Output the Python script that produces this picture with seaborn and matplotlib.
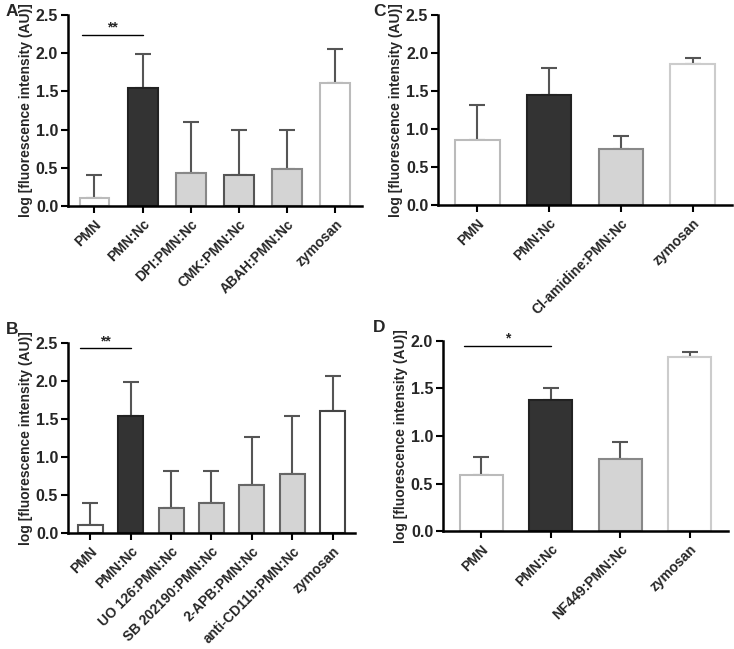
import numpy as np
import matplotlib
matplotlib.use("Agg")
import matplotlib.pyplot as plt
import seaborn as sns

# ---- data ----
a_labels = ["PMN", "PMN:Nc", "DPI:PMN:Nc", "CMK:PMN:Nc", "ABAH:PMN:Nc", "zymosan"]
a_means = [0.10, 1.54, 0.43, 0.41, 0.48, 1.61]
a_err = [0.30, 0.45, 0.67, 0.59, 0.51, 0.45]

b_labels = ["PMN", "PMN:Nc", "UO 126:PMN:Nc", "SB 202190:PMN:Nc", "2-APB:PMN:Nc",
            "anti-CD11b:PMN:Nc", "zymosan"]
b_means = [0.10, 1.54, 0.33, 0.40, 0.63, 0.77, 1.61]
b_err = [0.30, 0.45, 0.49, 0.41, 0.63, 0.77, 0.45]

c_labels = ["PMN", "PMN:Nc", "Cl-amidine:PMN:Nc", "zymosan"]
c_means = [0.86, 1.45, 0.74, 1.86]
c_err = [0.46, 0.36, 0.17, 0.07]

d_labels = ["PMN", "PMN:Nc", "NF449:PMN:Nc", "zymosan"]
d_means = [0.59, 1.38, 0.76, 1.83]
d_err = [0.19, 0.13, 0.18, 0.05]

WHITE, DARK, LIGHT = "#ffffff", "#333333", "#d4d4d4"

sns.set_style("ticks")
plt.rcParams["font.family"] = ["Liberation Sans", "DejaVu Sans"]
plt.rcParams["font.weight"] = "bold"

fig = plt.figure(figsize=(7.34, 6.49), dpi=100)


def panel(rect, labels, means, errs, fills, edges, ymax, letter, letter_xy, sig=None):
    ax = fig.add_axes(rect)
    sns.barplot(x=labels, y=means, hue=labels, palette=fills, legend=False,
                width=0.62, ax=ax, linewidth=1.5)
    for patch, ec in zip(ax.patches, edges):
        patch.set_edgecolor(ec)
    x = np.arange(len(labels))
    ax.errorbar(x, means, yerr=[np.zeros(len(errs)), errs], fmt="none",
                ecolor="#555555", elinewidth=1.5, capsize=6, capthick=1.5, zorder=1)
    for p in ax.patches:
        p.set_zorder(2)
    ax.set_xlim(-0.55, len(labels) - 0.45)
    ax.set_ylim(0, ymax)
    ticks = np.arange(0, ymax + 0.01, 0.5)
    ax.set_yticks(ticks)
    ax.set_yticklabels([f"{v:.1f}" for v in ticks], fontsize=11.5, fontweight="bold")
    ax.set_xticks(x)
    ax.set_xticklabels(labels, rotation=45, ha="right", rotation_mode="anchor",
                       fontsize=10, fontweight="bold")
    ax.tick_params(axis="both", width=1.5, length=5, color="black")
    ax.tick_params(axis="x", pad=3)
    ax.tick_params(axis="y", pad=2)
    ax.set_ylabel("log [fluorescence intensity (AU)]", fontsize=10,
                  fontweight="bold", labelpad=2)
    ax.set_xlabel("")
    for s in ["left", "bottom"]:
        ax.spines[s].set_linewidth(1.8)
        ax.spines[s].set_color("black")
    sns.despine(ax=ax)
    if sig is not None:
        ylev, stars = sig
        ax.plot([-0.25, 1.0], [ylev, ylev], color="black", lw=1, clip_on=False)
        ax.text(0.38, ylev, stars, ha="center", va="bottom", fontsize=10)
    fig.text(letter_xy[0], letter_xy[1], letter, fontsize=12.5, fontweight="bold",
             ha="left", va="center")
    return ax


panel([0.0926, 0.6826, 0.4005, 0.2943], a_labels, a_means, a_err,
      [WHITE, DARK, LIGHT, LIGHT, LIGHT, WHITE],
      ["#bbbbbb", "#222222", "#888888", "#555555", "#888888", "#bbbbbb"],
      2.5, "A", (0.008, 0.982), sig=(2.24, "**"))

panel([0.0926, 0.1787, 0.391, 0.2928], b_labels, b_means, b_err,
      [WHITE, DARK, LIGHT, LIGHT, LIGHT, LIGHT, WHITE],
      ["#555555", "#222222", "#666666", "#666666", "#666666", "#666666", "#444444"],
      2.5, "B", (0.008, 0.492), sig=(2.43, "**"))

panel([0.5967, 0.684, 0.4005, 0.2928], c_labels, c_means, c_err,
      [WHITE, DARK, LIGHT, WHITE],
      ["#bbbbbb", "#222222", "#888888", "#cccccc"],
      2.5, "C", (0.508, 0.982))

panel([0.6035, 0.1818, 0.388, 0.2928], d_labels, d_means, d_err,
      [WHITE, DARK, LIGHT, WHITE],
      ["#bbbbbb", "#222222", "#888888", "#cccccc"],
      2.0, "D", (0.508, 0.495), sig=(1.95, "*"))

fig.savefig("out.png", dpi=100)
